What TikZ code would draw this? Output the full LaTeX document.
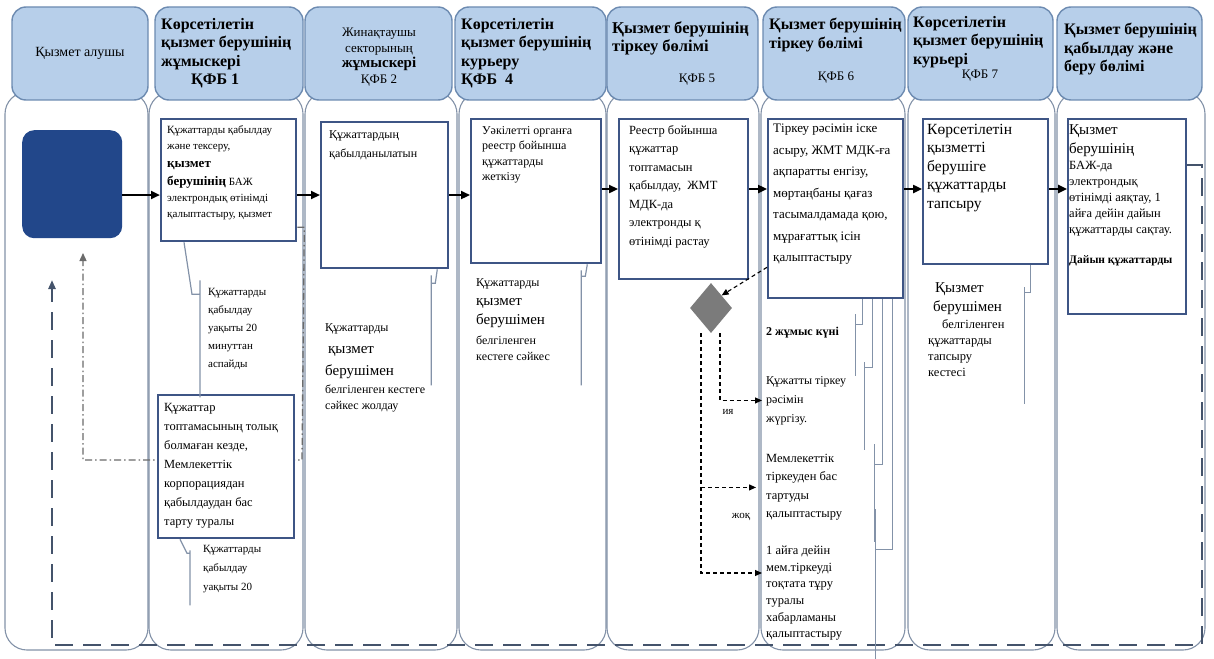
\documentclass[tikz,border=0pt]{standalone}
\usepackage{fontspec}
\setmainfont{Liberation Serif}
\usetikzlibrary{shapes.geometric,arrows.meta}
\definecolor{headfill}{HTML}{B7CFEA}
\definecolor{headline}{HTML}{6D8BB1}
\definecolor{laneline}{HTML}{8392A8}
\definecolor{boxline}{HTML}{3E5585}
\definecolor{navy}{HTML}{22478A}
\definecolor{decgray}{HTML}{7B7B7B}
\definecolor{retline}{HTML}{44536B}
\definecolor{dotgray}{HTML}{6B6B6B}

\begin{document}
\begin{tikzpicture}[x=1pt,y=-1pt,font=\fontsize{11}{16}\selectfont,
  lanehead/.style={draw=headline,fill=headfill,line width=1.4pt,rounded corners=14pt},
  lanebody/.style={draw=laneline,line width=1.1pt,rounded corners=22pt},
  stepbox/.style={draw=boxline,fill=white,line width=2.3pt,anchor=north west,inner sep=0pt},
  txt/.style={anchor=north west,align=left,inner sep=0pt},
  headtxt/.style={txt,font=\fontsize{16}{18.5}\selectfont\bfseries},
  flow/.style={line width=2.6pt,-{Triangle[length=9pt,width=8pt]}},
  dflow/.style={line width=1.1pt,dash pattern=on 4pt off 3pt,-{Triangle[length=7pt,width=6pt]}},
  calloutln/.style={draw=laneline,line width=1.2pt},
  ret/.style={draw=retline,line width=2.2pt,dash pattern=on 18pt off 10pt,-{Triangle[length=9pt,width=7pt]}}]

\fill[white] (0,0) rectangle (1214,658);
\useasboundingbox (0,0) rectangle (1214,658);

% lanes: left / right edge
\foreach \xa/\xb in {5/148,149/303,305/457,459/606,607/759,761/905,908/1055,1057/1205}{
  \draw[lanebody] (\xa,92) rectangle (\xb,650);
}
\foreach \xa/\xb in {12/148,155/303,305/452,455/606,607/758,763/905,908/1053,1057/1202}{
  \draw[lanehead] (\xa,7) rectangle (\xb,100);
}

% header texts
\node[font=\fontsize{14}{16}\selectfont] (t1) at (80,53) {Қызмет алушы};
\node[headtxt] (t2) at (161,18) {Көрсетілетін\\қызмет берушінің\\жұмыскері\\\hspace*{30pt}ҚФБ 1};
\node[align=center,font=\fontsize{13}{15.5}\selectfont] (t3) at (379,57)
  {Жинақтаушы\\секторының\\\bfseries\fontsize{15}{16}\selectfont жұмыскері\\ҚФБ 2};
\node[headtxt] (t4) at (461,18) {Көрсетілетін\\қызмет берушінің\\курьеру\\ҚФБ\ \ 4};
\node[headtxt,font=\fontsize{16.5}{18.5}\selectfont\bfseries] (t5) at (612,21) {Қызмет берушінің\\тіркеу бөлімі};
\node[font=\fontsize{13}{15}\selectfont] (k5) at (697,80) {ҚФБ 5};
\node[headtxt] (t6) at (769,18) {Қызмет берушінің\\тіркеу бөлімі};
\node[font=\fontsize{13}{15}\selectfont] (k6) at (836,78) {ҚФБ 6};
\node[headtxt] (t7) at (913,16) {Көрсетілетін\\қызмет берушінің\\курьері};
\node[font=\fontsize{13}{15}\selectfont] (k7) at (980,76) {ҚФБ 7};
\node[headtxt] (t8) at (1064,23) {Қызмет берушінің\\қабылдау және\\беру бөлімі};

% client
\node[fill=navy,rounded corners=12pt,minimum width=100,minimum height=108,anchor=north west] (client) at (22,130) {};

% worker 1
\node[stepbox,minimum width=135,minimum height=122] (recv) at (160,118) {};
\node[txt] (recvtxt) at (167,125) {Құжаттарды қабылдау\\және тексеру,\\[2pt]
  \fontsize{13}{16}\selectfont\bfseries қызмет\\[2pt]
  {\fontsize{13}{16}\selectfont\bfseries берушінің} БАЖ\\
  электрондық өтінімді\\қалыптастыру, қызмет};

\coordinate (rjc) at (302,460);
\coordinate (rjl) at (83,460);
\coordinate (rej) at (83,253);
\draw[dotgray,line width=1.3pt,dash pattern=on 7pt off 3pt on 1.5pt off 3pt,-{Triangle[length=8pt,width=7pt]}]
  ([yshift=15pt]recv.south east) -- ++(7,0) -- (rjc) -- (rjl) -- (rej);

\node[stepbox,minimum width=136,minimum height=143] (reject) at (157,394) {};
\node[txt,font=\fontsize{12.5}{19}\selectfont] (rejtxt) at (164,403)
  {Құжаттар\\топтамасының толық\\болмаған кезде,\\Мемлекеттік\\корпорациядан\\қабылдаудан бас\\тарту туралы};

\node[txt,font=\fontsize{11}{18}\selectfont] (n2a) at (208,288) {Құжаттарды\\қабылдау\\уақыты 20\\минуттан\\аспайды};
\node[txt,font=\fontsize{11}{19}\selectfont] (n2b) at (203,545) {Құжаттарды\\қабылдау\\уақыты 20};

% worker 2
\node[stepbox,minimum width=127,minimum height=146] (accum) at (320,121) {};
\node[txt,font=\fontsize{12}{19}\selectfont] (acctxt) at (329,130) {Құжаттардың\\қабылданылатын};
\node[txt,font=\fontsize{12}{16}\selectfont] (n3) at (325,323) {Құжаттарды\\[6pt]
  \fontsize{15}{16}\selectfont\hspace*{3pt}қызмет\\[6pt]
  \fontsize{15}{16}\selectfont берушімен\\[2pt]
  белгіленген кестеге\\сәйкес жолдау};

% courier 4
\node[stepbox,minimum width=130,minimum height=144] (courier) at (470,118) {};
\node[txt,font=\fontsize{12}{15.5}\selectfont] (courtxt) at (482,126) {Уәкілетті органға\\реестр бойынша\\құжаттарды\\жеткізу};
\node[txt,font=\fontsize{12}{16}\selectfont] (n4) at (476,278) {Құжаттарды\\[3pt]
  \fontsize{15}{16}\selectfont қызмет\\[3pt]
  \fontsize{15}{16}\selectfont берушімен\\[4pt]
  белгіленген\\кестеге сәйкес};

% registration 5
\node[stepbox,minimum width=129,minimum height=160] (reg5) at (618,118) {};
\node[txt,font=\fontsize{12.5}{18.5}\selectfont] (reg5txt) at (629,125)
  {Реестр бойынша\\құжаттар\\топтамасын\\қабылдау,\ \ ЖМТ\\МДК-да\\электронды қ\\өтінімді растау};
\node[diamond,fill=decgray,minimum width=42,minimum height=50,inner sep=0pt] (decide) at (711,308) {};
\node[font=\fontsize{11}{13}\selectfont] (yes) at (728,412) {ия};
\node[font=\fontsize{11}{13}\selectfont] (no) at (741,517) {жоқ};

% registration 6
\node[stepbox,minimum width=135,minimum height=179] (reg6) at (767,118) {};
\node[txt,font=\fontsize{13}{21.5}\selectfont] (reg6txt) at (773,124)
  {Тіркеу рәсімін іске\\асыру, ЖМТ МДК-ға\\ақпаратты енгізу,\\мөртаңбаны қағаз\\тасымалдамада қою,\\мұрағаттық ісін\\қалыптастыру};
\node[anchor=west,inner sep=0pt,font=\fontsize{12}{13}\selectfont\bfseries] (d6) at (766,333) {2 жұмыс күні};
\node[txt,font=\fontsize{12}{19}\selectfont] (t6a) at (766,376) {Құжатты тіркеу\\рәсімін\\жүргізу.};
\node[txt,font=\fontsize{12.5}{18.5}\selectfont] (t6b) at (766,454) {Мемлекеттік\\тіркеуден бас\\тартуды\\қалыптастыру};
\node[txt,font=\fontsize{12.5}{16.6}\selectfont] (t6c) at (766,546) {1 айға дейін\\мем.тіркеуді\\тоқтата тұру\\туралы\\хабарламаны\\қалыптастыру};

% courier 7
\node[stepbox,minimum width=125,minimum height=145] (hand7) at (922,118) {};
\node[txt,font=\fontsize{15.5}{18.5}\selectfont] (hand7txt) at (927,124) {Көрсетілетін\\қызметті\\берушіге\\құжаттарды\\тапсыру};
\node[txt,font=\fontsize{12.5}{16}\selectfont] (n7) at (928,282) {\fontsize{15}{16}\selectfont\hspace*{7pt}Қызмет\\[3pt]
  \fontsize{15}{16}\selectfont\hspace*{5pt}берушімен\\[1pt]
  \hspace*{14pt}белгіленген\\құжаттарды\\тапсыру\\кестесі};

% issue 8
\node[stepbox,minimum width=118,minimum height=195] (issue8) at (1067,118) {};
\node[txt,font=\fontsize{12.5}{16}\selectfont] (issue8txt) at (1069,124) {\fontsize{15}{16}\selectfont Қызмет\\[3pt]
  \fontsize{15}{16}\selectfont берушінің\\
  БАЖ-да\\электрондық\\өтінімді аяқтау, 1\\айға дейін дайын\\құжаттарды сақтау.\\[14pt]
  \fontsize{11.5}{16}\selectfont\bfseries Дайын құжаттарды};

% main flow
\coordinate (rowa) at (0,195);
\coordinate (rowb) at (0,189);
\draw[flow] (client.east |- rowa) -- (recv.west |- rowa);
\draw[flow] (recv.east |- rowa) -- (accum.west |- rowa);
\draw[flow] (accum.east |- rowa) -- (courier.west |- rowa);
\draw[flow] (courier.east |- rowb) -- (reg5.west |- rowb);
\draw[flow] (reg5.east |- rowb) -- (reg6.west |- rowb);
\draw[flow] (reg6.east |- rowb) -- (hand7.west |- rowb);
\draw[flow] (hand7.east |- rowb) -- (issue8.west |- rowb);

% decision
\draw[dflow] ([yshift=32pt]reg6.south west) -- (decide.north east);
\coordinate (yesbr) at ([xshift=9pt]decide.south);
\coordinate (nobr) at ([xshift=-10pt]decide.south);
\draw[dflow] (yesbr) |- ([xshift=-4pt]t6a.west);
\draw[dflow] (nobr |- t6b.west) -- ([xshift=-10pt]t6b.west);
\draw[dflow] (nobr) |- ([xshift=-4pt,yshift=-27pt]t6c.north west);

% return to client
\coordinate (rtop) at (1202,165);
\coordinate (rbot) at (1202,645);
\coordinate (lbot) at (52,645);
\coordinate (back) at (52,280);
\draw[ret] (issue8.east |- rtop) -- (rtop) -- (rbot) -- (lbot) -- (back);

% callouts
\draw[calloutln] ([xshift=24pt]recv.south west) -- ++(8,52) -- ++(8,0) ++(0,-14) -- ++(0,117);
\draw[calloutln] ([xshift=23pt]reject.south west) -- ++(7,14) -- ++(3,0) ++(0,-3) -- ++(0,55);
\draw[calloutln] ([xshift=-12pt]accum.south east) -- ++(-2,14) -- ++(-4,0) ++(0,-8) -- ++(0,110);
\draw[calloutln] ([xshift=-15pt]courier.south east) -- ++(-2,12) -- ++(-4,0) ++(0,-6) -- ++(0,115);
\draw[calloutln] ([xshift=-19pt]hand7.south east) -- ++(0,27) -- ++(-6,0) ++(0,-5) -- ++(0,117);
\draw[calloutln] ([xshift=-42pt]reg6.south east) -- ++(0,25) -- ++(-7,0) ++(0,-10) -- ++(0,62);
\draw[calloutln] ([xshift=-32pt]reg6.south east) -- ++(0,68) -- ++(-8,0) ++(0,-5) -- ++(0,88);
\draw[calloutln] ([xshift=-22pt]reg6.south east) -- ++(0,165) -- ++(-8,0) ++(0,-20) -- ++(0,98);
\draw[calloutln] ([xshift=-12pt]reg6.south east) -- ++(0,250) -- ++(-17,0) ++(0,-40) -- ++(0,151);
\end{tikzpicture}
\end{document}
